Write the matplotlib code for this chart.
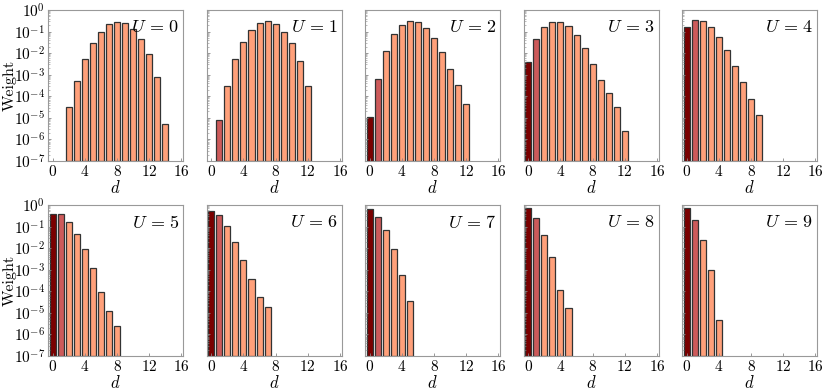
import numpy as np
import matplotlib
matplotlib.use("Agg")
import matplotlib.pyplot as plt
from matplotlib.ticker import LogLocator, NullFormatter, FixedLocator

plt.rcParams['mathtext.fontset'] = 'cm'
plt.rcParams['font.family'] = 'serif'
plt.rcParams['font.serif'] = ['cmr10', 'DejaVu Serif']
plt.rcParams['axes.formatter.use_mathtext'] = True

U_values = [0, 1, 2, 3, 4, 5, 6, 7, 8, 9]

# weights per U: list of (d, weight)
d_U0 = [2, 3, 4, 5, 6, 7, 8, 9, 10, 11, 12, 13, 14]
w_U0 = [3.1e-5, 5.1e-4, 5.1e-3, 0.031, 0.10, 0.22, 0.28, 0.24, 0.13, 0.044, 0.0091, 7.6e-4, 5e-6]
d_U1 = [1, 2, 3, 4, 5, 6, 7, 8, 9, 10, 11, 12]
w_U1 = [7.6e-6, 3e-4, 5.1e-3, 0.034, 0.118, 0.24, 0.30, 0.22, 0.10, 0.028, 4.3e-3, 3e-4]
d_U2 = [0, 1, 2, 3, 4, 5, 6, 7, 8, 9, 10, 11, 12]
w_U2 = [1.05e-5, 6.3e-4, 0.012, 0.077, 0.20, 0.30, 0.27, 0.15, 0.050, 0.0117, 1.8e-3, 3.3e-4, 4.4e-5]
d_U3 = [0, 1, 2, 3, 4, 5, 6, 7, 8, 9, 10, 11, 12]
w_U3 = [4e-3, 0.045, 0.16, 0.29, 0.29, 0.18, 0.069, 0.017, 3.1e-3, 5.7e-4, 1.4e-4, 3.3e-5, 2.4e-6]
d_U4 = [0, 1, 2, 3, 4, 5, 6, 7, 8, 9]
w_U4 = [0.16, 0.33, 0.31, 0.17, 0.058, 0.014, 2.5e-3, 4.6e-4, 7.8e-5, 1.3e-5]
d_U5 = [0, 1, 2, 3, 4, 5, 6, 7, 8]
w_U5 = [0.38, 0.38, 0.17, 0.044, 9.1e-3, 1.2e-3, 9.3e-5, 1.2e-5, 2.4e-6]
d_U6 = [0, 1, 2, 3, 4, 5, 6, 7]
w_U6 = [0.53, 0.34, 0.107, 0.019, 2.7e-3, 3.6e-4, 5.4e-5, 1.9e-5]
d_U7 = [0, 1, 2, 3, 4, 5]
w_U7 = [0.63, 0.29, 0.067, 8.8e-3, 5.7e-4, 3.4e-5]
d_U8 = [0, 1, 2, 3, 4, 5]
w_U8 = [0.70, 0.24, 0.039, 3.9e-3, 1.2e-4, 1.6e-5]
d_U9 = [0, 1, 2, 3, 4]
w_U9 = [0.75, 0.20, 0.024, 9.7e-4, 4.7e-6]

all_d = [d_U0, d_U1, d_U2, d_U3, d_U4, d_U5, d_U6, d_U7, d_U8, d_U9]
all_w = [w_U0, w_U1, w_U2, w_U3, w_U4, w_U5, w_U6, w_U7, w_U8, w_U9]

x_ticks = [0, 4, 8, 12, 16]

c0 = '#7a0000'
c1 = '#cd5a5a'
cother = '#ffa07a'

fig = plt.figure(figsize=(8.3, 3.9), dpi=100)
W, H = 830, 390
left0 = 48
pw = 135
step = 158.5
tops = [10, 205]
ph = 151

for i, U in enumerate(U_values):
    row, col = divmod(i, 5)
    l = left0 + col * step
    t = tops[row]
    ax = fig.add_axes([l / W, 1 - (t + ph) / H, pw / W, ph / H])
    d = all_d[i]
    w = all_w[i]
    colors = [c0 if dd == 0 else (c1 if dd == 1 else cother) for dd in d]
    ax.bar(d, w, width=0.75, color=colors, edgecolor='#333333', linewidth=0.9,
           bottom=1e-7)
    ax.set_yscale('log')
    ax.set_ylim(1e-7, 1)
    ax.set_xlim(-0.6, 16.2)
    ax.xaxis.set_major_locator(FixedLocator(x_ticks))
    ax.yaxis.set_major_locator(LogLocator(base=10, numticks=10))
    ax.yaxis.set_minor_locator(LogLocator(base=10, subs=np.arange(2, 10) * 0.1, numticks=20))
    ax.yaxis.set_minor_formatter(NullFormatter())
    ax.tick_params(axis='both', which='major', direction='in', length=2.5, width=0.6,
                   color='#888888', labelsize=11, pad=2)
    ax.tick_params(axis='y', which='minor', direction='in', length=1.2, width=0.4,
                   color='#888888')
    for s in ax.spines.values():
        s.set_color('#999999')
        s.set_linewidth(0.8)
    ax.set_xlabel(r'$d$', fontsize=12, labelpad=0)
    if col == 0:
        ax.set_ylabel('Weight', fontsize=11.5, labelpad=0)
        ax.yaxis.set_label_coords(-0.235, 0.5)
    else:
        ax.set_yticklabels([])
    ax.text(0.975, 0.885, r'$U\,=\,%d$' % U, transform=ax.transAxes,
            ha='right', va='center', fontsize=13)

fig.savefig('out.png', dpi=100)
